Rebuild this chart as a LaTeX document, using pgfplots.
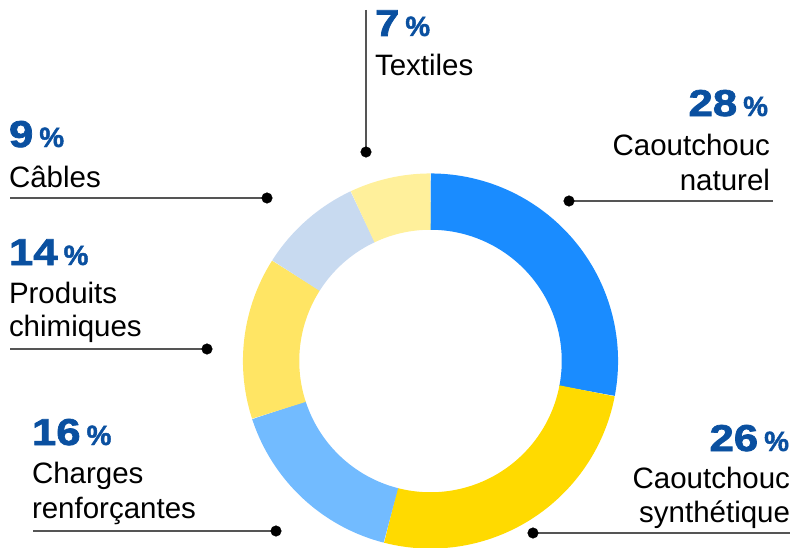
\documentclass[border=0pt]{standalone}
\usepackage{fontspec}
\setmainfont{Liberation Sans}
\newfontfamily\numfont[FakeStretch=1.17,FakeBold=2]{Liberation Sans Bold}
\newfontfamily\pctfont[FakeBold=1.5]{Liberation Sans Bold}
\usepackage{pgfplots}
\pgfplotsset{compat=1.18}
\definecolor{cNat}{RGB}{26,140,255}
\definecolor{cSyn}{RGB}{255,218,0}
\definecolor{cCha}{RGB}{114,187,255}
\definecolor{cPro}{RGB}{255,229,100}
\definecolor{cCab}{RGB}{200,218,240}
\definecolor{cTex}{RGB}{255,240,155}
\definecolor{numblue}{RGB}{10,80,160}
\definecolor{leadgray}{RGB}{85,85,85}
\newcommand\lab{\fontsize{29.6}{35}\selectfont}
\newcommand\pct[1]{{\numfont\fontsize{37.5}{37.5}\selectfont #1}\hspace{6bp}{\pctfont\fontsize{28}{28}\selectfont\%}}
\begin{document}
\begin{tikzpicture}
\begin{axis}[width=796bp,height=548bp,scale only axis,
  xmin=0,xmax=796,ymin=0,ymax=548,y dir=reverse,hide axis,clip=true]
\def\cx{430.5}\def\cy{361}\def\rmid{159.4}
% shares (%): 28, 26, 16, 14, 9, 7 -- clockwise from top
\addplot[draw=cNat,line width=56.3bp,line cap=butt,domain={90}:{90-3.6*28},samples=90] ({\cx+\rmid*cos(x)},{\cy-\rmid*sin(x)});
\addplot[draw=cSyn,line width=56.3bp,line cap=butt,domain={90-3.6*28}:{90-3.6*54},samples=90] ({\cx+\rmid*cos(x)},{\cy-\rmid*sin(x)});
\addplot[draw=cCha,line width=56.3bp,line cap=butt,domain={90-3.6*54}:{90-3.6*70},samples=60] ({\cx+\rmid*cos(x)},{\cy-\rmid*sin(x)});
\addplot[draw=cPro,line width=56.3bp,line cap=butt,domain={90-3.6*70}:{90-3.6*84},samples=60] ({\cx+\rmid*cos(x)},{\cy-\rmid*sin(x)});
\addplot[draw=cCab,line width=56.3bp,line cap=butt,domain={90-3.6*84}:{90-3.6*93},samples=40] ({\cx+\rmid*cos(x)},{\cy-\rmid*sin(x)});
\addplot[draw=cTex,line width=56.3bp,line cap=butt,domain={90-3.6*93}:{90-3.6*100},samples=40] ({\cx+\rmid*cos(x)},{\cy-\rmid*sin(x)});
% leader lines
\addplot[leadgray,line width=1.3bp] coordinates {(366,10) (366,152)};
\addplot[leadgray,line width=1.3bp] coordinates {(569,201) (773,201)};
\addplot[leadgray,line width=1.3bp] coordinates {(10,198) (267,198)};
\addplot[leadgray,line width=1.3bp] coordinates {(10,349) (207,349)};
\addplot[leadgray,line width=1.3bp] coordinates {(33,531) (276,531)};
\addplot[leadgray,line width=1.3bp] coordinates {(533,533) (790,533)};
\addplot[only marks,mark=*,mark size=5.3bp,black] coordinates {(366,152) (569,201) (267,198) (207,349) (276,531) (533,533)};
% labels
\begin{scope}[every node/.style={inner sep=0pt,outer sep=0pt}]
\node[anchor=base west,text=numblue] at (axis cs:375,36) {\pct{7}};
\node[anchor=base west] at (axis cs:375,76) {\lab Textiles};
\node[anchor=base east,text=numblue] at (axis cs:768,116) {\pct{28}};
\node[anchor=base east] at (axis cs:770,155) {\lab Caoutchouc};
\node[anchor=base east] at (axis cs:770,190) {\lab naturel};
\node[anchor=base west,text=numblue] at (axis cs:9,147) {\pct{9}};
\node[anchor=base west] at (axis cs:9,187) {\lab Câbles};
\node[anchor=base west,text=numblue] at (axis cs:9,265) {\pct{14}};
\node[anchor=base west] at (axis cs:9,303) {\lab Produits};
\node[anchor=base west] at (axis cs:9,336) {\lab chimiques};
\node[anchor=base west,text=numblue] at (axis cs:32,445) {\pct{16}};
\node[anchor=base west] at (axis cs:32,483) {\lab Charges};
\node[anchor=base west] at (axis cs:32,518) {\lab renforçantes};
\node[anchor=base east,text=numblue] at (axis cs:789,451) {\pct{26}};
\node[anchor=base east] at (axis cs:790,488) {\lab Caoutchouc};
\node[anchor=base east] at (axis cs:790,522) {\lab synthétique};
\end{scope}
\end{axis}
\pgfresetboundingbox
\path[use as bounding box] (current axis.south west) rectangle (current axis.north east);
\end{tikzpicture}
\end{document}
